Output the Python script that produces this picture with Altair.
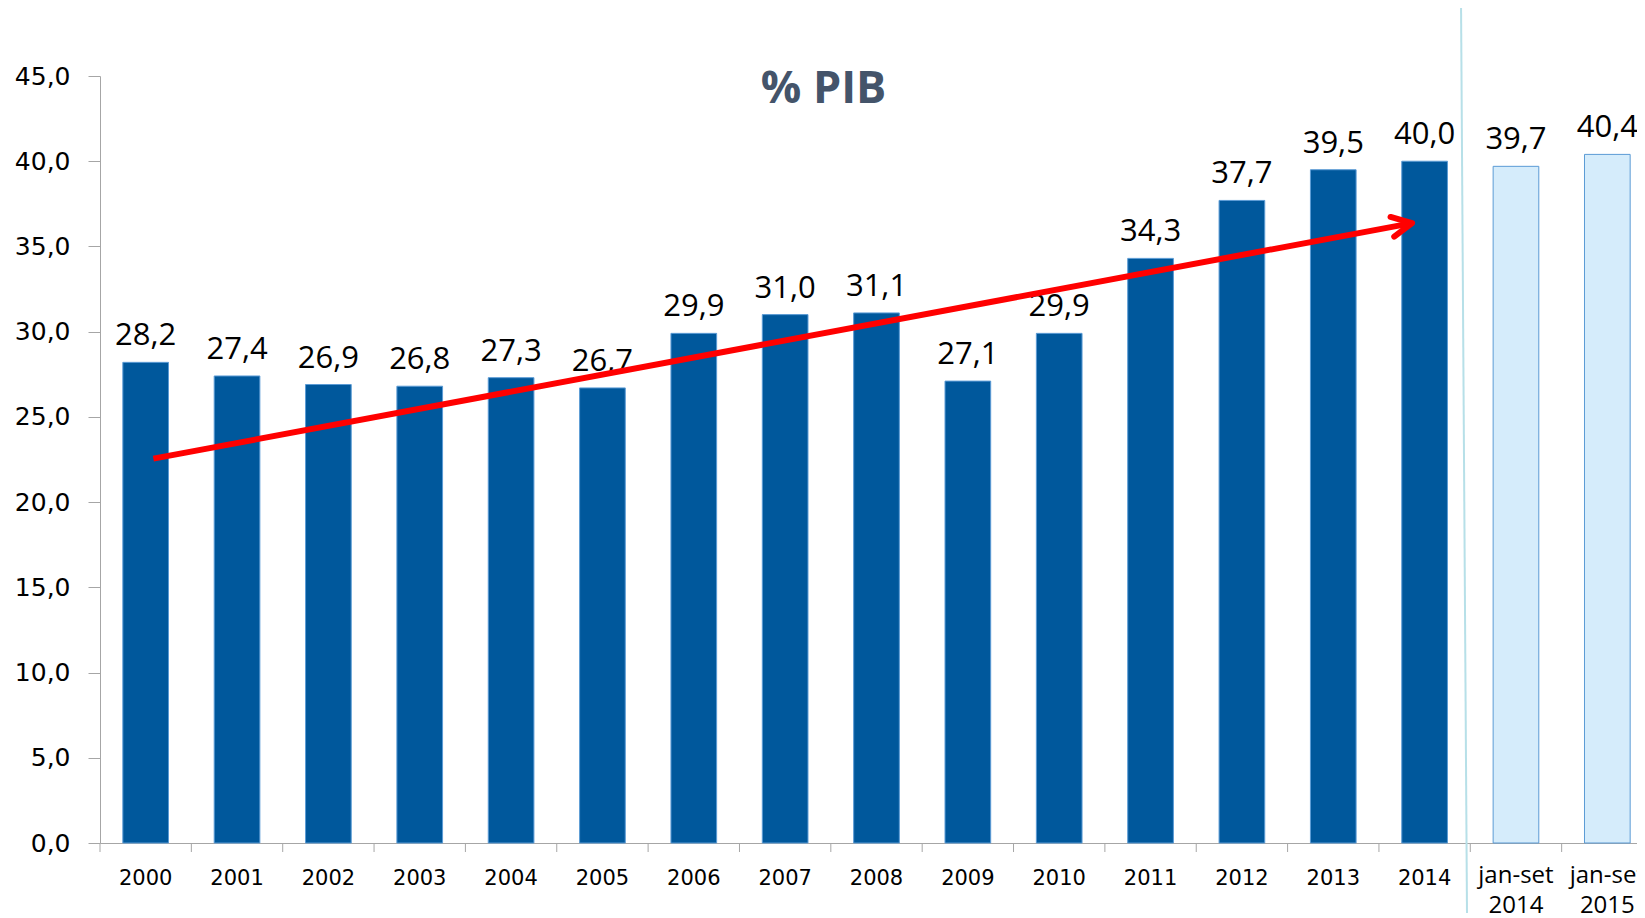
import math
import altair as alt
import pandas as pd

# ---------------- data ----------------
categories = ["2000", "2001", "2002", "2003", "2004", "2005", "2006", "2007",
              "2008", "2009", "2010", "2011", "2012", "2013", "2014",
              "jan-set 2014", "jan-set 2015"]
values = [28.2, 27.4, 26.9, 26.8, 27.3, 26.7, 29.9, 31.0, 31.1, 27.1, 29.9,
          34.3, 37.7, 39.5, 40.0, 39.7, 40.4]
kinds = ["ano"] * 15 + ["jan-set"] * 2
y_ticks = [0, 5, 10, 15, 20, 25, 30, 35, 40, 45]

# trend arrow: start / end (category, % PIB)
arrow_cat = ["2000", "2014"]
arrow_val = [22.55, 36.37]
# separator drawn after this category
sep_cat = ["2014"]
# chart heading, placed after this category's bar at this % PIB level
title_text = ["% PIB"]
title_cat = ["2007"]
title_val = [43.4]

# ---------------- layout / style ----------------
PLOT_W = 1537
RANGE_W = 1553
PLOT_H = 767
N = len(categories)
Y_MAX = 45
P_INNER, P_OUTER = 0.5, 0.25
STEP = RANGE_W / (N - P_INNER + 2 * P_OUTER)
BW = STEP * (1 - P_INNER)          # bar width
GAP_HALF = (STEP - BW) / 2         # half gap between bars
ARROW_BP = (0.668, 0.225)          # arrow ends, relative to bar width
SEP_OFF = (13.6, 19.6)             # separator offset from bar end (top, bottom)
TITLE_DX = 15.5

DARK = "#00589C"
LIGHT = "#D5ECFB"
AXIS_GRAY = "#A6A6A6"
RED = "#FF0000"

labels_txt = [f"{v:.1f}".replace(".", ",") for v in values]
df = pd.DataFrame({"cat": categories, "value": values, "kind": kinds, "label": labels_txt})
df_arrow = pd.DataFrame({"c0": [arrow_cat[0]], "c1": [arrow_cat[1]],
                         "v0": [arrow_val[0]], "v1": [arrow_val[1]]})
df_sep = pd.DataFrame({"cat": sep_cat})
df_last = pd.DataFrame({"cat": [categories[-1]]})
df_title = pd.DataFrame({"cat": title_cat, "value": title_val, "text": title_text})

px_y = PLOT_H / Y_MAX
dx_px = (categories.index(arrow_cat[1]) - categories.index(arrow_cat[0])) * STEP \
    + (ARROW_BP[1] - ARROW_BP[0]) * BW
dy_px = (arrow_val[1] - arrow_val[0]) * px_y
head_angle = 360 - math.degrees(math.atan2(dy_px, dx_px))

x_scale = alt.Scale(domain=categories, range=[0, RANGE_W], paddingInner=P_INNER, paddingOuter=P_OUTER)
y_scale = alt.Scale(domain=[0, Y_MAX], nice=False)

x_band = alt.X(
    "cat:N", scale=x_scale,
    axis=alt.Axis(title=None, labels=False, ticks=False, domainColor=AXIS_GRAY),
)

y_val = alt.Y(
    "value:Q", scale=y_scale,
    axis=alt.Axis(
        title=None, values=y_ticks, grid=False, tickSize=12, labelPadding=18,
        labelExpr="replace(format(datum.value, '.1f'), '.', ',')",
        labelFont="DejaVu Sans", labelFontSize=25, labelColor="#000000",
        domainColor=AXIS_GRAY, tickColor=AXIS_GRAY,
    ),
)

bars = alt.Chart(df).mark_bar(stroke="#5B9BD5", strokeWidth=1).encode(
    x=x_band, y=y_val,
    color=alt.Color("kind:N", scale=alt.Scale(domain=["ano", "jan-set"], range=[DARK, LIGHT]), legend=None),
)

labels = alt.Chart(df).mark_text(
    baseline="alphabetic", dy=-17, font="Open Sans", fontSize=31, color="#000000"
).encode(x=alt.X("cat:N"), y=alt.Y("value:Q"), text="label:N")

# x-axis tick marks at category boundaries (midway between bars)
ticks_start = alt.Chart(df).mark_rule(color=AXIS_GRAY, strokeWidth=1, xOffset=-GAP_HALF).encode(
    x=alt.X("cat:N", bandPosition=0), y=alt.value(PLOT_H), y2=alt.value(PLOT_H + 9),
)
ticks_end = alt.Chart(df_last).mark_rule(color=AXIS_GRAY, strokeWidth=1, xOffset=GAP_HALF).encode(
    x=alt.X("cat:N", bandPosition=1), y=alt.value(PLOT_H), y2=alt.value(PLOT_H + 9),
)

# x-axis category labels
xlab_years = alt.Chart(df).transform_filter(alt.datum.kind == "ano").mark_text(
    baseline="top", font="DejaVu Sans", fontSize=21, color="#000000"
).encode(x=alt.X("cat:N"), y=alt.value(PLOT_H + 25), text="cat:N")

xlab_partial = alt.Chart(df).transform_filter(alt.datum.kind == "jan-set").mark_text(
    baseline="top", font="Open Sans", fontSize=24, color="#000000", lineBreak=" ", lineHeight=30
).encode(x=alt.X("cat:N"), y=alt.value(PLOT_H + 21), text="cat:N")

heading = alt.Chart(df_title).mark_text(
    baseline="alphabetic", font="Open Sans", fontSize=45, fontWeight="bold",
    color="#44546A", dx=TITLE_DX,
).encode(x=alt.X("cat:N", bandPosition=1), y=alt.Y("value:Q"), text="text:N")

sep = alt.Chart(df_sep).mark_rule(
    color="#B7E0E8", strokeWidth=2, xOffset=SEP_OFF[0], x2Offset=SEP_OFF[1]
).encode(
    x=alt.X("cat:N", bandPosition=1),
    x2=alt.X2("cat:N", bandPosition=1),
    y=alt.value(-68),
    y2=alt.value(PLOT_H + 80),
)

shaft = alt.Chart(df_arrow).mark_rule(color=RED, strokeWidth=6, strokeCap="butt").encode(
    x=alt.X("c0:N", bandPosition=ARROW_BP[0]),
    x2=alt.X2("c1:N", bandPosition=ARROW_BP[1]),
    y=alt.Y("v0:Q"),
    y2=alt.Y2("v1:Q"),
)

head = alt.Chart(df_arrow).mark_point(
    shape="M-1,-0.5L0,0L-1,0.5", filled=False, size=1600, strokeWidth=6,
    color=RED, opacity=1, angle=head_angle, strokeCap="round", strokeJoin="round",
).encode(
    x=alt.X("c1:N", bandPosition=ARROW_BP[1]),
    y=alt.Y("v1:Q"),
)

chart = alt.layer(
    bars, labels, ticks_start, ticks_end, xlab_years, xlab_partial, heading, sep, shaft, head
).properties(
    width=PLOT_W,
    height=PLOT_H,
    autosize=alt.AutoSizeParams(type="none"),
    padding={"left": 92, "top": 68, "right": 0, "bottom": 70},
).configure_view(stroke=None)

chart.save("out.html", embed_options={"renderer": "svg", "actions": False})
